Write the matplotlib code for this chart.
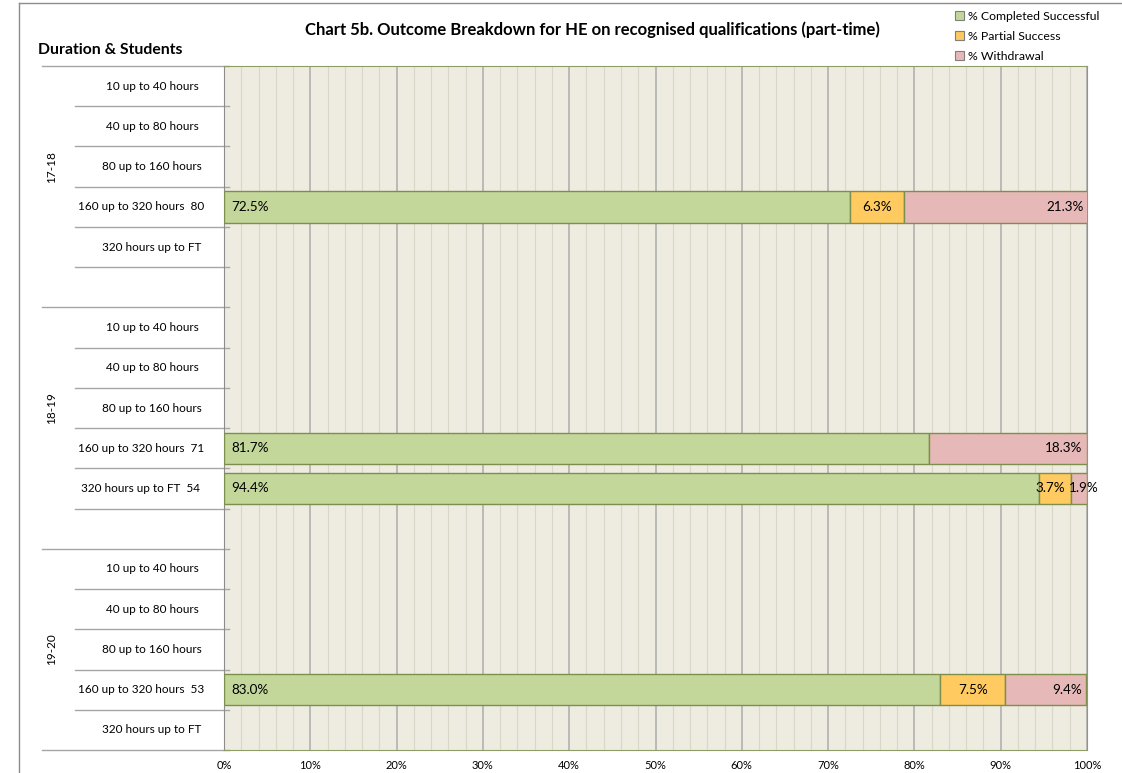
import numpy as np
import matplotlib.pyplot as plt
from matplotlib.lines import Line2D
from matplotlib.patches import Patch
import matplotlib.transforms as mtransforms

plt.rcParams['font.family'] = ['Lato', 'DejaVu Sans']

# data
years = ['17-18', '18-19', '19-20']
durations = ['10 up to 40 hours', '40 up to 80 hours', '80 up to 160 hours',
             '160 up to 320 hours', '320 hours up to FT']
# student counts per (year, duration); missing = no students
students = {('17-18', '160 up to 320 hours'): 80,
            ('18-19', '160 up to 320 hours'): 71,
            ('18-19', '320 hours up to FT'): 54,
            ('19-20', '160 up to 320 hours'): 53}
completed = {('17-18', '160 up to 320 hours'): 72.5,
             ('18-19', '160 up to 320 hours'): 81.7,
             ('18-19', '320 hours up to FT'): 94.4,
             ('19-20', '160 up to 320 hours'): 83.0}
partial = {('17-18', '160 up to 320 hours'): 6.3,
           ('18-19', '160 up to 320 hours'): 0.0,
           ('18-19', '320 hours up to FT'): 3.7,
           ('19-20', '160 up to 320 hours'): 7.5}
withdrawal = {('17-18', '160 up to 320 hours'): 21.3,
              ('18-19', '160 up to 320 hours'): 18.3,
              ('18-19', '320 hours up to FT'): 1.9,
              ('19-20', '160 up to 320 hours'): 9.4}
series_names = ['% Completed Successful', '% Partial Success', '% Withdrawal']
colors = ['#C4D79B', '#FFCA5F', '#E6B9B8']

# build rows: each year's durations, blank spacer between years
rows = []
for i, yr in enumerate(years):
    for d in durations:
        rows.append((yr, d))
    if i < len(years) - 1:
        rows.append((yr, None))
n = len(rows)

fig = plt.figure(figsize=(11.22, 7.73), dpi=100)
ax = fig.add_axes([224 / 1122, 1 - 750 / 773, 863 / 1122, 684 / 773])
ax.set_facecolor('#EEECE1')

lab_fs = 9.7
for i, key in enumerate(rows):
    if key not in completed:
        continue
    vals = [completed[key], partial[key], withdrawal[key]]
    narrow_end = vals[2] < 4
    left = 0
    for j, v in enumerate(vals):
        if v > 0:
            ax.barh(i, v, left=left, height=0.78, color=colors[j],
                    edgecolor='#7D8F4C', linewidth=1, zorder=3)
            lab = f'{v:.1f}%'
            if j == 0:
                ax.text(left + 0.8, i, lab, ha='left', va='center', fontsize=lab_fs, zorder=4)
            elif j == 1 and narrow_end:
                ax.text(left + v - 0.6, i, lab, ha='right', va='center', fontsize=lab_fs, zorder=4)
            elif j == 2 and narrow_end:
                ax.text(left - 0.25, i, lab, ha='left', va='center', fontsize=lab_fs, zorder=4)
            elif j == 2:
                ax.text(left + v - 0.5, i, lab, ha='right', va='center', fontsize=lab_fs, zorder=4)
            else:
                ax.text(left + v / 2, i, lab, ha='center', va='center', fontsize=lab_fs, zorder=4)
        left += v

ax.set_xlim(0, 100)
ax.set_ylim(n - 0.5, -0.5)
ax.set_xticks(np.arange(0, 101, 10))
ax.set_xticklabels([f'{t}%' for t in range(0, 101, 10)], fontsize=8)
ax.set_xticks(np.arange(0, 101, 2), minor=True)
ax.tick_params(axis='x', which='both', length=0, pad=7)
ax.set_yticks([])
ax.grid(axis='x', which='minor', color='#DAD7C8', linewidth=0.8, zorder=0)
ax.grid(axis='x', which='major', color='#B0B0B0', linewidth=1.2, zorder=1)
ax.set_axisbelow(True)
for s in ['top', 'right', 'bottom']:
    ax.spines[s].set_color('#8E9C68')
ax.spines['left'].set_color('#8C8C8C')

# category labels and separators
trans = mtransforms.blended_transform_factory(ax.transAxes, ax.transData)
for i, (yr, d) in enumerate(rows):
    if d is not None:
        cnt = students.get((yr, d))
        if cnt is None:
            ax.text(-0.0834, i, d, transform=trans, ha='center', va='center', fontsize=8.5)
        else:
            ax.text(-0.0962, i, f'{d}  {cnt}', transform=trans, ha='center', va='center', fontsize=8.5)
for b in range(n + 1):
    y = b - 0.5
    is_group = b == 0 or b == n or (b < n and rows[b][0] != rows[b - 1][0])
    x0 = -0.2109 if is_group else -0.1727
    ax.add_line(Line2D([x0, 0.0058], [y, y], transform=trans, color='#A6A6A6',
                       linewidth=1, clip_on=False))

start = 0
for yr in years:
    cnt = sum(1 for r in rows if r[0] == yr and r[1] is not None)
    centre = start + (cnt - 1) / 2
    ax.text(-0.1993, centre, yr, transform=trans, rotation=90, ha='center', va='center', fontsize=8.5)
    start += sum(1 for r in rows if r[0] == yr)

fig.text(592 / 1122, 1 - 30 / 773, 'Chart 5b. Outcome Breakdown for HE on recognised qualifications (part-time)',
         ha='center', va='center', fontsize=12, fontweight='bold')
fig.text(38 / 1122, 1 - 50 / 773, 'Duration & Students', ha='left', va='center', fontsize=11.3, fontweight='bold')

handles = [Patch(facecolor=c, edgecolor='#7F7F7F', linewidth=0.8) for c in colors]
fig.legend(handles, series_names, loc='upper left', bbox_to_anchor=(955 / 1122, 1 - 11 / 773),
           frameon=False, fontsize=8.8, handlelength=0.75, handleheight=0.75, handletextpad=0.3,
           labelspacing=0.72, borderpad=0, borderaxespad=0)

# outer frame
fig.add_artist(Line2D([19 / 1122, 19 / 1122], [0, 1 - 3 / 773], color='#8C8C8C', linewidth=1))
fig.add_artist(Line2D([19 / 1122, 1], [1 - 3 / 773, 1 - 3 / 773], color='#8C8C8C', linewidth=1))

fig.savefig('out.png', dpi=100)
